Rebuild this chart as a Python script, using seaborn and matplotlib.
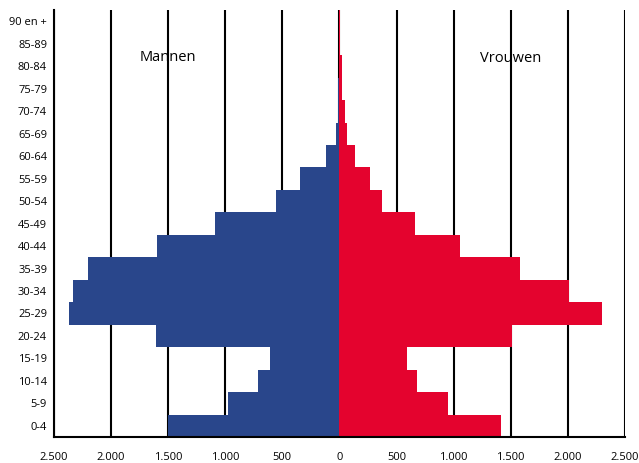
import numpy as np
import pandas as pd
import seaborn as sns
import matplotlib.pyplot as plt
from matplotlib.ticker import FuncFormatter

# age groups, top to bottom
age_groups = ["90 en +", "85-89", "80-84", "75-79", "70-74", "65-69", "60-64",
              "55-59", "50-54", "45-49", "40-44", "35-39", "30-34", "25-29",
              "20-24", "15-19", "10-14", "5-9", "0-4"]
mannen = [2, 5, 8, 15, 16, 31, 120, 344, 555, 1090, 1597, 2203, 2332, 2367,
          1604, 608, 712, 976, 1503]
vrouwen = [2, 5, 23, 26, 45, 66, 134, 266, 373, 665, 1054, 1579, 2007, 2303,
           1507, 590, 676, 951, 1418]

df = pd.concat([
    pd.DataFrame({"leeftijd": age_groups, "aantal": -np.array(mannen), "geslacht": "Mannen"}),
    pd.DataFrame({"leeftijd": age_groups, "aantal": np.array(vrouwen), "geslacht": "Vrouwen"}),
])

sns.set_style("white")
plt.rcParams['font.family'] = ['Open Sans', 'DejaVu Sans']

fig = plt.figure(figsize=(6.39, 4.63), dpi=100)
ax = fig.add_axes([0.0845, 0.056, 0.8935, 0.922])

sns.barplot(data=df, x="aantal", y="leeftijd", hue="geslacht", order=age_groups,
            palette={"Mannen": "#29468B", "Vrouwen": "#E4032E"}, orient="h",
            width=1.0, dodge=False, saturation=1, legend=False, ax=ax,
            linewidth=0)

ax.set_xlim(-2500, 2500)
ax.set_ylim(18.5, -0.5)
ax.set_xticks(np.arange(-2500, 2501, 500))
ax.xaxis.set_major_formatter(FuncFormatter(lambda v, p: f"{abs(int(v)):,}".replace(",", ".")))
ax.set_xlabel("")
ax.set_ylabel("")
ax.set_axisbelow(True)
ax.xaxis.grid(True, color="black", linewidth=1.5)
ax.yaxis.grid(False)
for s in ["top", "right"]:
    ax.spines[s].set_visible(False)
for s in ["left", "bottom"]:
    ax.spines[s].set_color("black")
    ax.spines[s].set_linewidth(1.5)
ax.tick_params(axis="both", length=0, labelsize=8, colors="black")
ax.tick_params(axis="x", pad=10.5)
ax.tick_params(axis="y", pad=5)

ax.text(-1500, 1.6, "Mannen", ha="center", va="center", fontsize=10.5, color="black")
ax.text(1500, 1.65, "Vrouwen", ha="center", va="center", fontsize=10.5, color="black")

fig.savefig("out.png", dpi=100)
